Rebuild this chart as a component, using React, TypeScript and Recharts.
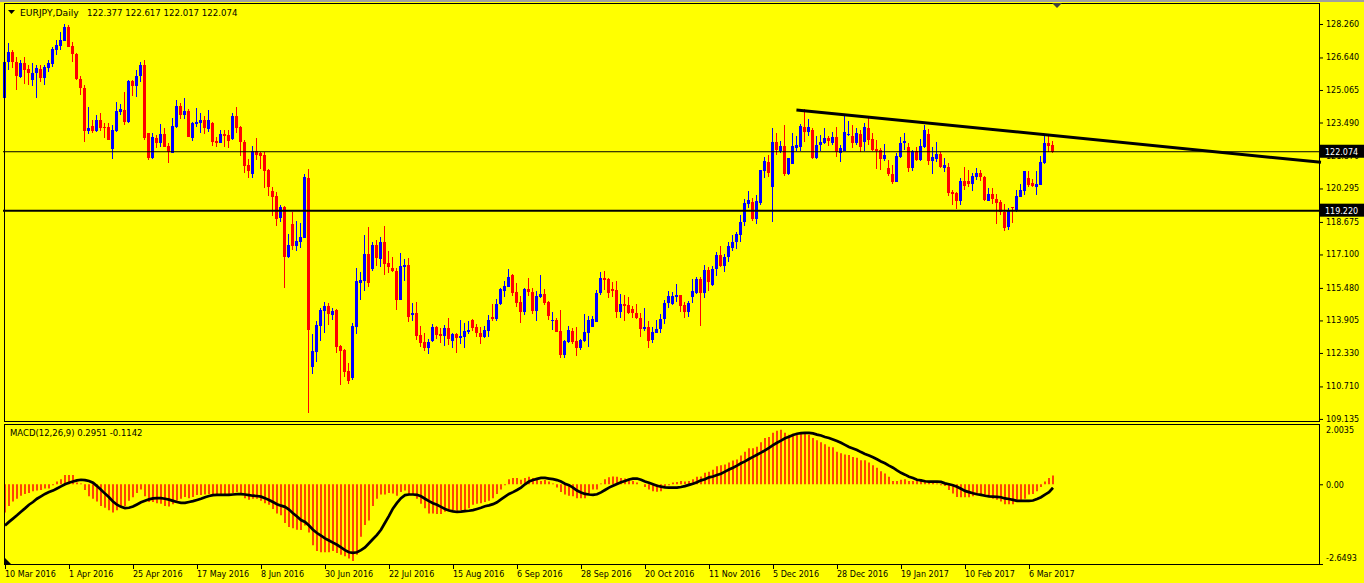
import { Bar, ComposedChart, Line, ReferenceLine, XAxis, YAxis } from "recharts";

// EURJPY daily, 10 Mar 2016 .. Mar 2017 (one entry per bar)
const opens = [
  124.66, 126.44, 126.92, 126.4, 125.71, 126.36, 126.08, 125.55, 125.87, 126.08,
  125.66, 126.15, 126.31, 127.0, 127.21, 127.45, 128.1, 127.19, 126.81, 125.58,
  125.14, 123.08, 123.32, 123.08, 123.61, 123.29, 123.26, 122.19, 123.09, 124.01,
  124.1, 123.53, 125.52, 125.27, 125.74, 126.27, 122.97, 121.75, 122.76, 122.51,
  122.92, 122.37, 122.03, 123.29, 124.29, 123.85, 124.05, 122.76, 123.42, 123.48,
  123.61, 123.16, 123.48, 122.61, 122.51, 122.93, 122.89, 122.69, 123.8, 123.29,
  122.56, 121.43, 121.0, 122.11, 122.0, 121.92, 121.19, 120.17, 119.93, 118.88,
  119.41, 116.99, 118.58, 117.51, 117.72, 117.91, 120.79, 111.67, 112.39, 113.65,
  114.36, 114.6, 114.17, 114.41, 112.67, 112.47, 111.45, 111.1, 113.6, 115.73,
  115.82, 117.12, 116.38, 117.56, 116.88, 117.72, 116.67, 116.46, 116.3, 114.9,
  116.48, 116.59, 114.17, 114.28, 113.2, 112.88, 112.59, 112.91, 113.6, 113.25,
  113.15, 113.52, 112.93, 113.25, 113.07, 113.12, 113.36, 113.93, 113.57, 113.28,
  113.09, 113.39, 114.09, 113.97, 114.7, 115.35, 115.54, 116.1, 115.3, 114.81,
  114.33, 115.43, 115.3, 114.38, 115.06, 115.18, 114.81, 113.89, 113.93, 113.39,
  112.23, 112.88, 113.39, 112.91, 112.59, 112.91, 113.31, 113.6, 113.85, 115.22,
  115.98, 115.91, 115.43, 115.38, 114.33, 114.7, 114.65, 114.46, 114.25, 114.04,
  113.47, 113.59, 112.96, 113.28, 113.47, 113.96, 114.73, 114.7, 115.06, 115.14,
  114.65, 114.33, 115.06, 115.25, 115.91, 115.25, 116.35, 115.62, 116.38, 117.07,
  116.56, 116.99, 117.43, 117.72, 118.04, 118.69, 119.54, 119.62, 118.8, 119.61,
  121.16, 121.56, 120.38, 122.53, 122.11, 122.35, 120.98, 121.48, 122.27, 122.32,
  123.29, 123.01, 123.13, 121.79, 122.4, 122.51, 122.76, 122.51, 122.8, 122.0,
  122.11, 122.89, 122.85, 122.48, 122.93, 122.56, 123.24, 122.69, 122.19, 122.16,
  121.72, 121.3, 121.0, 120.63, 121.84, 122.48, 122.32, 121.3, 122.11, 121.67,
  122.32, 122.93, 121.63, 121.72, 121.97, 121.3, 121.35, 120.14, 120.06, 119.69,
  120.66, 120.66, 120.51, 120.87, 121.03, 120.87, 119.71, 120.01, 119.79, 119.62,
  119.17, 118.45, 119.38, 119.25, 119.9, 120.19, 120.79, 120.54, 120.35, 120.46,
  121.55, 122.48, 122.377,
];

const highs = [
  126.84, 127.32, 127.0, 126.68, 126.52, 126.68, 126.27, 126.36, 126.27, 126.27,
  126.27, 126.52, 127.16, 127.49, 127.86, 128.24, 128.21, 127.4, 126.84, 125.74,
  125.31, 124.26, 123.61, 123.85, 123.93, 123.45, 123.45, 123.37, 124.5, 124.37,
  124.98, 125.55, 125.55, 126.03, 126.44, 126.52, 123.0, 122.97, 122.88, 123.42,
  123.21, 122.48, 123.69, 124.58, 124.45, 124.66, 124.14, 123.53, 124.18, 123.93,
  123.8, 124.1, 123.53, 122.8, 123.13, 123.13, 123.13, 123.97, 124.22, 123.32,
  122.64, 121.72, 122.35, 122.72, 122.08, 122.08, 121.22, 120.35, 120.14, 119.5,
  119.46, 118.09, 119.17, 118.72, 118.64, 121.0, 121.25, 113.25, 113.88, 114.52,
  114.81, 114.73, 114.52, 114.45, 112.72, 112.52, 111.86, 113.77, 116.46, 116.27,
  118.04, 118.45, 117.72, 117.8, 117.96, 118.48, 117.27, 116.96, 116.46, 117.15,
  116.86, 116.91, 114.77, 114.81, 113.64, 113.28, 112.99, 113.73, 113.64, 113.52,
  113.68, 114.01, 113.31, 113.31, 113.93, 113.8, 113.89, 113.96, 113.73, 113.6,
  113.64, 114.17, 114.7, 114.93, 115.46, 115.83, 116.4, 116.15, 115.73, 115.09,
  115.46, 115.94, 115.46, 115.33, 116.1, 115.41, 114.86, 114.33, 114.01, 114.41,
  112.96, 113.64, 113.52, 113.6, 113.01, 114.22, 114.12, 114.12, 115.38, 116.27,
  116.32, 115.98, 115.78, 115.82, 115.19, 115.14, 115.06, 114.6, 114.7, 114.25,
  114.52, 113.89, 113.6, 113.93, 114.22, 114.9, 115.33, 115.3, 115.67, 115.14,
  114.78, 114.86, 115.91, 116.03, 116.03, 116.59, 116.48, 116.54, 117.24, 117.51,
  117.11, 117.72, 118.04, 118.2, 119.01, 119.79, 120.17, 119.82, 119.98, 121.19,
  121.84, 121.92, 123.24, 122.97, 122.59, 123.37, 121.79, 122.97, 122.84, 123.42,
  124.14, 123.66, 123.21, 122.84, 122.89, 123.24, 122.85, 123.05, 123.29, 122.4,
  123.85, 123.56, 123.37, 123.21, 123.13, 123.48, 123.72, 122.97, 122.64, 122.27,
  122.43, 121.67, 121.43, 122.0, 122.8, 123.0, 122.51, 122.16, 122.29, 122.69,
  123.37, 123.16, 122.32, 122.53, 122.08, 121.76, 121.55, 120.22, 120.11, 120.82,
  121.32, 121.19, 121.06, 121.27, 121.19, 120.9, 120.3, 120.3, 120.01, 119.74,
  119.53, 119.33, 119.41, 120.22, 120.51, 121.14, 121.14, 120.75, 121.14, 121.88,
  122.84, 122.93, 122.617,
];

const lows = [
  123.69, 126.03, 126.11, 125.1, 125.63, 125.39, 125.31, 125.26, 124.69, 125.47,
  125.31, 125.95, 126.19, 126.76, 127.0, 127.4, 127.13, 126.44, 125.52, 124.82,
  122.56, 122.97, 123.0, 123.01, 123.05, 122.72, 122.64, 121.71, 123.05, 123.85,
  123.37, 123.45, 124.77, 124.74, 125.47, 122.64, 121.67, 121.71, 122.24, 122.32,
  122.29, 121.51, 122.0, 123.21, 123.66, 123.66, 122.76, 122.61, 123.26, 122.97,
  122.92, 123.05, 122.37, 122.32, 122.51, 122.29, 122.24, 122.64, 122.97, 121.88,
  121.06, 120.82, 120.82, 121.64, 121.27, 120.33, 119.9, 118.96, 118.49, 118.69,
  115.49, 116.91, 117.32, 117.27, 117.43, 117.91, 109.44, 111.31, 111.91, 112.93,
  113.31, 113.65, 113.93, 112.34, 110.78, 111.18, 110.83, 111.02, 113.28, 114.9,
  115.35, 115.54, 116.32, 116.54, 116.51, 116.11, 116.22, 116.22, 114.41, 114.88,
  115.78, 113.81, 113.89, 112.96, 112.6, 112.42, 112.28, 112.88, 112.99, 112.8,
  112.67, 112.68, 112.6, 112.34, 112.76, 112.6, 113.25, 113.39, 113.12, 112.76,
  113.04, 113.12, 113.89, 113.85, 114.65, 115.06, 115.51, 115.1, 114.57, 113.8,
  114.17, 115.06, 114.22, 113.89, 114.97, 114.65, 113.96, 113.47, 113.36, 112.07,
  112.07, 112.83, 112.76, 112.2, 112.47, 112.88, 112.6, 113.6, 113.85, 115.17,
  115.41, 115.01, 115.06, 114.01, 114.01, 113.89, 114.22, 114.01, 113.96, 113.07,
  113.41, 112.59, 112.83, 113.28, 113.28, 113.72, 114.49, 114.65, 114.81, 114.33,
  114.01, 114.09, 114.77, 115.22, 113.68, 114.98, 115.3, 115.57, 116.07, 116.48,
  116.22, 116.75, 117.28, 117.4, 117.72, 118.49, 119.33, 118.69, 118.56, 119.5,
  120.82, 120.87, 118.69, 121.92, 122.0, 120.9, 120.95, 121.48, 122.11, 122.11,
  122.56, 122.85, 121.71, 121.71, 122.11, 122.45, 122.37, 122.43, 121.84, 121.59,
  122.11, 122.85, 122.27, 122.37, 122.05, 122.11, 122.43, 122.08, 121.24, 121.19,
  121.59, 120.9, 120.5, 120.59, 121.79, 122.19, 121.11, 121.14, 121.59, 121.63,
  122.27, 121.43, 121.0, 121.56, 121.32, 121.06, 119.95, 119.5, 119.3, 119.5,
  120.22, 120.35, 120.19, 120.67, 120.67, 119.69, 119.71, 119.53, 118.58, 119.01,
  118.2, 118.25, 118.64, 119.17, 119.87, 119.98, 120.35, 120.35, 119.98, 120.46,
  121.48, 122.08, 122.017,
];

const closes = [
  126.44, 126.92, 126.4, 125.74, 126.39, 126.03, 125.87, 125.9, 126.11, 125.66,
  126.19, 126.39, 127.03, 127.24, 127.49, 128.1, 127.16, 126.79, 125.58, 125.18,
  123.08, 123.24, 123.08, 123.61, 123.24, 123.24, 122.64, 123.13, 124.05, 124.13,
  123.53, 125.52, 125.27, 125.74, 126.27, 122.72, 121.75, 122.8, 122.51, 122.92,
  122.32, 122.08, 123.32, 124.29, 123.85, 124.05, 122.8, 123.48, 123.53, 123.61,
  123.21, 123.61, 122.56, 122.51, 122.93, 122.84, 122.61, 123.8, 123.24, 122.53,
  121.38, 121.16, 122.11, 121.92, 121.88, 121.16, 120.35, 119.9, 118.82, 119.41,
  116.99, 117.56, 117.53, 117.75, 117.96, 120.87, 113.44, 112.43, 113.68, 114.41,
  114.6, 114.22, 114.36, 112.64, 112.44, 111.42, 110.99, 113.64, 115.82, 115.86,
  117.12, 115.73, 117.56, 116.91, 117.72, 116.64, 116.51, 116.32, 114.9, 116.54,
  116.59, 114.09, 114.28, 113.15, 112.83, 112.59, 112.88, 113.6, 113.2, 113.15,
  113.52, 113.01, 113.25, 113.07, 113.15, 113.41, 113.44, 113.55, 113.31, 113.12,
  113.44, 113.93, 113.96, 114.7, 115.43, 115.57, 115.99, 115.25, 114.76, 114.33,
  115.41, 115.3, 114.38, 115.09, 115.18, 114.76, 114.12, 113.93, 113.36, 112.23,
  112.91, 113.44, 112.88, 112.59, 112.96, 113.36, 113.93, 113.96, 115.22, 115.98,
  115.86, 115.22, 115.35, 114.33, 114.7, 114.62, 114.28, 114.25, 114.04, 113.47,
  113.59, 112.93, 113.33, 113.49, 113.98, 114.77, 115.09, 115.09, 115.14, 114.62,
  114.33, 114.73, 115.33, 115.91, 115.25, 116.35, 115.78, 116.4, 117.07, 116.54,
  116.96, 117.51, 117.72, 118.07, 118.69, 119.61, 119.74, 118.8, 119.69, 121.19,
  121.63, 121.06, 122.53, 122.16, 122.35, 120.98, 121.79, 122.35, 122.4, 123.32,
  123.05, 123.29, 121.79, 122.4, 122.56, 122.76, 122.59, 122.8, 122.08, 122.27,
  123.05, 122.93, 122.48, 123.0, 122.32, 123.29, 122.64, 122.16, 122.11, 121.72,
  121.92, 121.0, 120.63, 121.87, 122.48, 122.59, 121.3, 122.11, 121.67, 122.35,
  123.13, 121.63, 121.8, 121.97, 121.35, 121.43, 120.09, 120.03, 119.69, 120.66,
  120.43, 120.51, 120.9, 121.03, 120.87, 119.74, 120.03, 119.77, 119.61, 119.14,
  118.4, 119.22, 119.33, 119.93, 120.22, 121.14, 120.46, 120.42, 120.51, 121.56,
  122.48, 122.35, 122.074,
];

// MACD(12,26,9): main line (histogram) and signal line
const macdMain = [
  -0.94, -0.72, -0.57, -0.48, -0.38, -0.32, -0.29, -0.23, -0.21, -0.19,
  -0.14, -0.14, -0.03, 0.09, 0.17, 0.31, 0.31, 0.31, 0.06, 0.03,
  -0.19, -0.4, -0.48, -0.57, -0.72, -0.78, -0.86, -0.94, -0.86, -0.74,
  -0.72, -0.55, -0.43, -0.29, -0.17, -0.4, -0.59, -0.59, -0.63, -0.65,
  -0.72, -0.74, -0.66, -0.55, -0.48, -0.42, -0.46, -0.42, -0.36, -0.36,
  -0.34, -0.32, -0.34, -0.34, -0.32, -0.32, -0.34, -0.29, -0.26, -0.34,
  -0.46, -0.51, -0.48, -0.48, -0.55, -0.63, -0.68, -0.82, -0.97, -1.03,
  -1.29, -1.42, -1.46, -1.51, -1.52, -1.37, -1.6, -2.03, -2.22, -2.26,
  -2.26, -2.26, -2.22, -2.28, -2.34, -2.39, -2.47, -2.55, -2.34, -1.74,
  -1.35, -1.2, -0.72, -0.48, -0.34, -0.34, -0.29, -0.31, -0.38, -0.26,
  -0.21, -0.34, -0.34, -0.48, -0.65, -0.8, -0.97, -0.97, -0.99, -0.99,
  -0.91, -0.89, -0.86, -0.88, -0.86, -0.86, -0.8, -0.68, -0.65, -0.63,
  -0.59, -0.55, -0.46, -0.32, -0.17, -0.03, 0.17, 0.21, 0.21, 0.15,
  0.21, 0.25, 0.21, 0.14, 0.11, 0.14, 0.09, 0.03, -0.11, -0.26,
  -0.34, -0.38, -0.4, -0.46, -0.46, -0.46, -0.32, -0.17, -0.17, 0.03,
  0.17, 0.23, 0.26, 0.25, 0.21, 0.19, 0.17, 0.11, 0.06, 0.0,
  -0.09, -0.17, -0.23, -0.25, -0.23, -0.08, -0.03, 0.06, 0.08, 0.11,
  0.09, 0.11, 0.17, 0.25, 0.26, 0.38, 0.42, 0.48, 0.6, 0.63,
  0.66, 0.72, 0.79, 0.82, 0.96, 1.08, 1.2, 1.2, 1.25, 1.4,
  1.54, 1.57, 1.71, 1.78, 1.81, 1.71, 1.65, 1.68, 1.65, 1.71,
  1.71, 1.65, 1.54, 1.46, 1.4, 1.33, 1.25, 1.23, 1.08, 1.03,
  0.99, 0.97, 0.91, 0.88, 0.8, 0.8, 0.72, 0.63, 0.55, 0.43,
  0.36, 0.25, 0.11, 0.11, 0.15, 0.17, 0.11, 0.11, 0.14, 0.17,
  0.14, 0.09, 0.06, 0.03, -0.03, -0.06, -0.19, -0.31, -0.42, -0.43,
  -0.43, -0.43, -0.4, -0.36, -0.38, -0.4, -0.42, -0.48, -0.51, -0.57,
  -0.66, -0.66, -0.66, -0.51, -0.51, -0.48, -0.34, -0.32, -0.23, -0.09,
  0.09, 0.21, 0.2951,
];

const macdSignal = [
  -1.37, -1.25, -1.14, -1.03, -0.91, -0.8, -0.68, -0.59, -0.48, -0.4,
  -0.32, -0.26, -0.21, -0.14, -0.07, 0.0, 0.05, 0.09, 0.13, 0.15,
  0.14, 0.11, 0.05, -0.06, -0.18, -0.31, -0.43, -0.57, -0.68, -0.75,
  -0.79, -0.78, -0.74, -0.67, -0.6, -0.55, -0.5, -0.47, -0.46, -0.46,
  -0.48, -0.51, -0.55, -0.59, -0.62, -0.62, -0.59, -0.56, -0.52, -0.48,
  -0.43, -0.39, -0.36, -0.35, -0.35, -0.35, -0.35, -0.34, -0.33, -0.33,
  -0.34, -0.36, -0.38, -0.39, -0.41, -0.46, -0.52, -0.59, -0.66, -0.71,
  -0.75, -0.84, -0.96, -1.07, -1.19, -1.25, -1.37, -1.51, -1.62, -1.71,
  -1.8, -1.87, -1.94, -2.01, -2.1, -2.19, -2.26, -2.28, -2.26, -2.19,
  -2.1, -1.96, -1.82, -1.68, -1.51, -1.28, -1.05, -0.8, -0.62, -0.46,
  -0.36, -0.34, -0.34, -0.35, -0.4, -0.48, -0.56, -0.63, -0.68, -0.75,
  -0.82, -0.87, -0.9, -0.92, -0.91, -0.89, -0.88, -0.86, -0.82, -0.78,
  -0.73, -0.7, -0.66, -0.6, -0.5, -0.41, -0.32, -0.26, -0.19, -0.11,
  0.0, 0.09, 0.14, 0.18, 0.21, 0.21, 0.19, 0.17, 0.14, 0.09,
  0.02, -0.03, -0.11, -0.21, -0.27, -0.32, -0.34, -0.35, -0.33, -0.27,
  -0.19, -0.11, -0.05, 0.01, 0.07, 0.11, 0.16, 0.19, 0.19, 0.15,
  0.09, 0.05, 0.0, -0.05, -0.08, -0.1, -0.11, -0.11, -0.11, -0.09,
  -0.06, -0.02, 0.02, 0.07, 0.13, 0.17, 0.23, 0.26, 0.31, 0.35,
  0.42, 0.49, 0.55, 0.62, 0.7, 0.76, 0.84, 0.91, 0.98, 1.05,
  1.13, 1.21, 1.3, 1.38, 1.45, 1.53, 1.58, 1.64, 1.68, 1.7,
  1.71, 1.71, 1.69, 1.65, 1.62, 1.57, 1.54, 1.49, 1.44, 1.38,
  1.31, 1.24, 1.19, 1.14, 1.07, 1.01, 0.96, 0.9, 0.83, 0.76,
  0.7, 0.62, 0.55, 0.46, 0.38, 0.32, 0.25, 0.21, 0.15, 0.13,
  0.1, 0.09, 0.09, 0.09, 0.08, 0.03, 0.0, -0.03, -0.08, -0.15,
  -0.22, -0.26, -0.3, -0.33, -0.35, -0.38, -0.4, -0.41, -0.42, -0.43,
  -0.47, -0.49, -0.52, -0.55, -0.55, -0.55, -0.55, -0.54, -0.49, -0.43,
  -0.34, -0.26, -0.1142,
];

const dateLabels = [
  "10 Mar 2016", "1 Apr 2016", "25 Apr 2016", "17 May 2016", "8 Jun 2016",
  "30 Jun 2016", "22 Jul 2016", "15 Aug 2016", "6 Sep 2016", "28 Sep 2016",
  "20 Oct 2016", "11 Nov 2016", "5 Dec 2016", "28 Dec 2016", "19 Jan 2017",
  "10 Feb 2017", "6 Mar 2017",
];
const BARS_PER_LABEL = 16;

const priceTicks = [
  128.26, 126.64, 125.065, 123.49, 121.87, 120.295, 118.675, 117.1, 115.48,
  113.905, 112.33, 110.71, 109.135,
];
const priceMarkers = [122.074, 119.22]; // current bid, support level
const macdTicks = [2.0035, 0, -2.6493];

// trendline drawn across December highs, in bar-index / price units
const trendLine = [
  { x: 197.75, y: 124.1 },
  { x: 328.5, y: 121.56 },
];

const SLOTS = 329; // visible bar slots incl. empty space on the right
const FONT = "'DejaVu Sans', Verdana, sans-serif";
const BULL = "#0000FF";
const BEAR = "#FF0000";
const PLOT_RIGHT = 1319;

const rows = Array.from({ length: SLOTS }, (_, i) =>
  i < closes.length
    ? {
        i,
        open: opens[i],
        high: highs[i],
        low: lows[i],
        close: closes[i],
        macd: macdMain[i],
        signal: macdSignal[i],
      }
    : { i }
);

const Candle = (props: any) => {
  const { x, y, width, height, payload } = props;
  if (!payload || payload.high == null) return null;
  const { open, close, high, low } = payload;
  const span = high - low;
  const toY = (v: number) => (span > 0 ? y + ((high - v) / span) * height : y);
  const color = close >= open ? BULL : BEAR;
  const col = Math.floor(x + width / 2);
  const top = Math.round(toY(Math.max(open, close)));
  const bot = Math.round(toY(Math.min(open, close)));
  return (
    <g>
      <rect x={col} y={Math.round(y)} width={1} height={Math.max(1, Math.round(height))} fill={color} />
      <rect x={col - 1} y={top} width={3} height={Math.max(1, bot - top)} fill={color} />
    </g>
  );
};

const PriceTick = (props: any) => {
  const { y, payload } = props;
  const v = payload.value as number;
  const label = v.toFixed(3);
  if (priceMarkers.includes(v)) {
    return (
      <g>
        <rect x={PLOT_RIGHT + 1} y={y - 7} width={44} height={13} fill="#000" />
        <text x={PLOT_RIGHT + 6} y={y + 3} fill="#fff" fontSize={8} fontFamily={FONT}>
          {label}
        </text>
      </g>
    );
  }
  return (
    <g>
      <line x1={PLOT_RIGHT} x2={PLOT_RIGHT + 4} y1={y + 0.5} y2={y + 0.5} stroke="#000" />
      <text x={PLOT_RIGHT + 7} y={y + 3} fill="#000" fontSize={8} fontFamily={FONT}>
        {label}
      </text>
    </g>
  );
};

const MacdTick = (props: any) => {
  const { y, payload } = props;
  const v = payload.value as number;
  const label = v === 0 ? "0.00" : String(v);
  const dy = v > 0 ? 9 : v < 0 ? -3 : 4;
  return (
    <g>
      {v <= 0 && (
        <line x1={PLOT_RIGHT} x2={PLOT_RIGHT + 4} y1={y + 0.5} y2={y + 0.5} stroke="#000" />
      )}
      <text x={PLOT_RIGHT + 7} y={y + dy} fill="#000" fontSize={8} fontFamily={FONT}>
        {label}
      </text>
    </g>
  );
};

const DateTick = (props: any) => {
  const { x, payload } = props;
  const label = dateLabels[payload.value / BARS_PER_LABEL];
  const cx = Math.floor(x) + 0.5;
  return (
    <g>
      <line x1={cx} x2={cx} y1={140} y2={145} stroke="#000" />
      <text x={cx - 0.5} y={153} fill="#000" fontSize={8} fontFamily={FONT}>
        {label}
      </text>
    </g>
  );
};

export default function App() {
  const dateTicks = dateLabels.map((_, k) => k * BARS_PER_LABEL);
  return (
    <div
      style={{
        position: "absolute",
        left: 0,
        top: 0,
        width: 1364,
        height: 583,
        background: "#FFFF00",
        overflow: "hidden",
      }}
    >
      {/* price panel */}
      <div style={{ position: "absolute", left: 0, top: 0 }}>
        <ComposedChart
          width={1364}
          height={424}
          data={rows}
          margin={{ top: 3, right: 0, bottom: 3, left: 3 }}
          barCategoryGap={0}
          barGap={0}
        >
          <XAxis dataKey="i" type="category" hide />
          <XAxis
            xAxisId="num"
            type="number"
            domain={[-0.5, SLOTS - 0.5]}
            allowDataOverflow
            hide
          />
          <YAxis
            orientation="right"
            width={45}
            domain={[109.035, 129.277]}
            allowDataOverflow
            ticks={[...priceTicks, ...priceMarkers]}
            interval={0}
            axisLine={false}
            tickLine={false}
            tick={<PriceTick />}
          />
          <ReferenceLine y={priceMarkers[0]} stroke="#000" strokeWidth={1} ifOverflow="visible" />
          <ReferenceLine y={priceMarkers[1]} stroke="#000" strokeWidth={2} ifOverflow="visible" />
          <Bar
            dataKey={(d: any) => (d.high == null ? null : [d.low, d.high])}
            barSize={4}
            shape={(p: any) => <Candle {...p} />}
            isAnimationActive={false}
          />
          <ReferenceLine
            xAxisId="num"
            segment={trendLine}
            stroke="#000"
            strokeWidth={3}
            ifOverflow="visible"
          />
        </ComposedChart>
      </div>

      {/* MACD panel */}
      <div style={{ position: "absolute", left: 0, top: 424 }}>
        <ComposedChart
          width={1364}
          height={159}
          data={rows}
          margin={{ top: 0, right: 0, bottom: 0, left: 3 }}
          barCategoryGap={0}
          barGap={0}
        >
          <XAxis
            dataKey="i"
            type="category"
            height={19}
            ticks={dateTicks}
            interval={0}
            axisLine={false}
            tickLine={false}
            tick={<DateTick />}
          />
          <YAxis
            orientation="right"
            width={45}
            domain={[-2.6493, 2.0035]}
            allowDataOverflow
            ticks={macdTicks}
            interval={0}
            axisLine={false}
            tickLine={false}
            tick={<MacdTick />}
          />
          <Bar dataKey="macd" fill="#FF4500" barSize={2} isAnimationActive={false} />
          <Line
            dataKey="signal"
            type="linear"
            stroke="#000"
            strokeWidth={2.7}
            dot={false}
            activeDot={false}
            isAnimationActive={false}
          />
        </ComposedChart>
      </div>

      {/* window frame, titles */}
      <svg
        width={1364}
        height={583}
        style={{ position: "absolute", left: 0, top: 0, pointerEvents: "none" }}
      >
        <rect x={0} y={0} width={1364} height={2} fill="#A0A0A0" />
        <rect x={4.5} y={3.5} width={1315} height={418} fill="none" stroke="#000" />
        <rect x={4.5} y={424.5} width={1315} height={140} fill="none" stroke="#000" />
        <polygon points="8,10 15,10 11.5,14" fill="#000" />
        <text x={20} y={16} fontSize={9.2} fontFamily={FONT} fill="#000">
          EURJPY,Daily
        </text>
        <text x={87} y={16} fontSize={8.6} fontFamily={FONT} fill="#000">
          122.377 122.617 122.017 122.074
        </text>
        <polygon points="1052,3 1062,3 1057,8" fill="#404040" />
        <text x={10} y={436} fontSize={8.5} fontFamily={FONT} fill="#000">
          MACD(12,26,9) 0.2951 -0.1142
        </text>
        <polygon points="5,558 5,564 11,564" fill="#000" />
      </svg>
    </div>
  );
}
